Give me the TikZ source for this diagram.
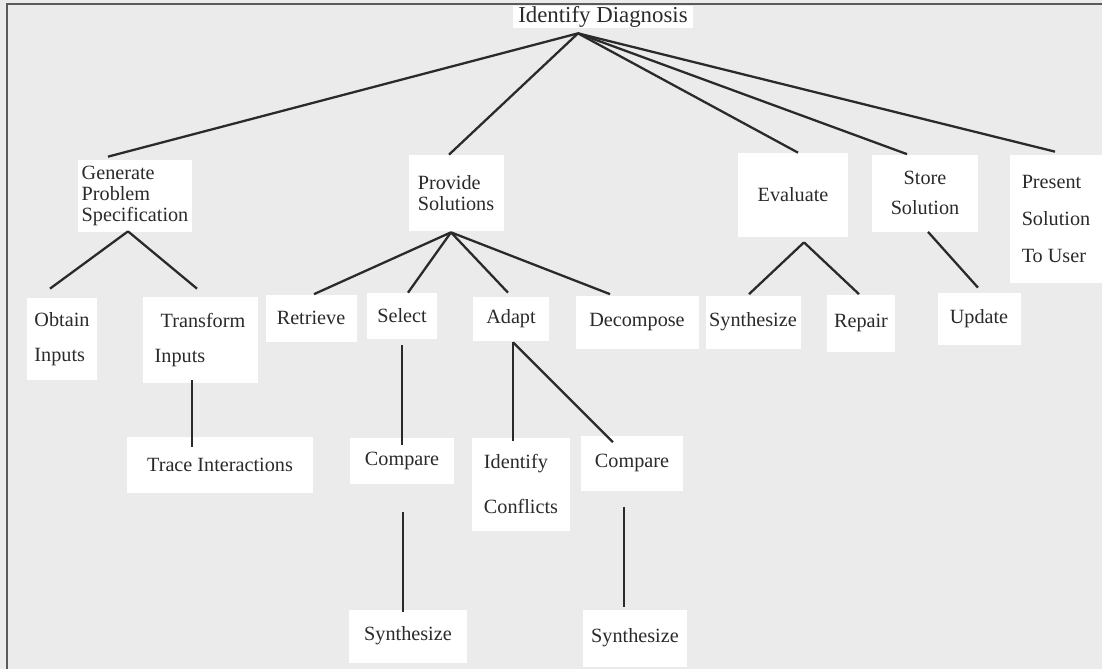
\documentclass[tikz,border=0pt]{standalone}
\usepackage{fontspec}
\setmainfont{Liberation Serif}
\usetikzlibrary{calc, positioning}
\definecolor{paper}{HTML}{EBEBEB}
\definecolor{frameline}{HTML}{5A5A5A}
\definecolor{ink}{HTML}{2A2A2A}

\begin{document}
\begin{tikzpicture}[
    x=0.2mm, y=-0.2mm,
    task/.style={fill=white, inner sep=0pt, text=ink,
                 font=\fontsize{11.5}{12.2}\selectfont},
    link/.style={draw=ink, line width=1.3pt}
  ]
  \useasboundingbox (0,0) rectangle (1102,669);
  \fill[paper] (0,0) rectangle (1102,669);
  \draw[frameline, line width=0.4mm] (7,669) -- (7,3.5) -- (1102,3.5);

  % top level
  \node[task, font=\fontsize{13}{14}\selectfont,
        minimum width=36mm, minimum height=4.4mm] (diag) at (603,17)
    {Identify Diagnosis};

  % second level
  \node[task, align=left, minimum width=22.8mm, minimum height=14.4mm] (gen) at (135,196)
    {Generate\\Problem\\Specification};
  \node[task, align=left, minimum width=19mm, minimum height=15.2mm] (prov) at (456,193)
    {Provide\\Solutions};
  \node[task, minimum width=22mm, minimum height=16.8mm] (eval) at (793,195)
    {Evaluate};
  \node[task, align=center, minimum width=21.2mm, minimum height=15.4mm] (store) at (925,193)
    {Store\\[1.7mm]Solution};
  \node[task, align=left, minimum width=18.4mm, minimum height=25.6mm] (pres) at (1056,219)
    {Present\\[3.2mm]Solution\\[3.2mm]To User};

  % third level
  \node[task, align=left, minimum width=13.8mm, minimum height=16.4mm] (obtain) at (62,339)
    {Obtain\\[2.7mm]Inputs};
  \node[task, align=left, minimum width=23mm, minimum height=17.2mm] (trans) at (200,340)
    {\hspace*{1.2mm}Transform\\[2.7mm]Inputs};
  \node[task, minimum width=18.2mm, minimum height=9.4mm] (retr) at (311,318) {Retrieve};
  \node[task, minimum width=14mm, minimum height=9.2mm] (sel) at (402,316) {Select};
  \node[task, minimum width=15.2mm, minimum height=8.8mm] (adapt) at (511,319) {Adapt};
  \node[task, minimum width=24.6mm, minimum height=10.6mm] (decomp) at (637,322) {Decompose};
  \node[task, minimum width=19mm, minimum height=10.6mm] (synA) at (753,322) {Synthesize};
  \node[task, minimum width=13.6mm, minimum height=11.4mm] (repair) at (861,323) {Repair};
  \node[task, minimum width=16.6mm, minimum height=10.4mm] (update) at (979,319) {Update};

  % fourth level
  \node[task, minimum width=37.2mm, minimum height=11.2mm] (trace) at (220,465)
    {Trace Interactions};
  \node[task, minimum width=20.8mm, minimum height=9.2mm] (cmpA) at (402,461) {Compare};
  \node[task, align=left, minimum width=19.6mm, minimum height=18.6mm] (confl) at (521,484)
    {Identify\\[4.7mm]Conflicts};
  \node[task, minimum width=20.4mm, minimum height=11mm] (cmpB) at (632,463) {Compare};

  % fifth level
  \node[task, minimum width=23.6mm, minimum height=10.6mm] (synB) at (408,636) {Synthesize};
  \node[task, minimum width=20.8mm, minimum height=11.4mm] (synC) at (635,638) {Synthesize};

  % links from the root
  \draw[link] ($(diag.south)+(-25,5)$) -- ($(gen.north)+(-27,-3)$);
  \draw[link] ($(diag.south)+(-25,5)$) -- ($(prov.north)+(-7,0)$);
  \draw[link] ($(diag.south)+(-25,5)$) -- ($(eval.north)+(5,0)$);
  \draw[link] ($(diag.south)+(-25,5)$) -- ($(store.north)+(-18,0)$);
  \draw[link] ($(diag.south)+(-25,5)$) -- ($(pres.north)+(-1,-3)$);

  % links below
  \draw[link] ($(gen.south)+(-7,-1)$) -- ($(obtain.north)+(-12,-9)$);
  \draw[link] ($(gen.south)+(-7,-1)$) -- ($(trans.north)+(-3,-8)$);
  \draw[link] ($(prov.south)+(-5,1)$) -- ($(retr.north)+(3,0)$);
  \draw[link] ($(prov.south)+(-5,1)$) -- ($(sel.north)+(6,0)$);
  \draw[link] ($(prov.south)+(-5,1)$) -- ($(adapt.north)+(-3,-4)$);
  \draw[link] ($(prov.south)+(-5,1)$) -- ($(decomp.north)+(-27,-1)$);
  \draw[link] ($(eval.south)+(11,5)$) -- ($(synA.north)+(-4,-1)$);
  \draw[link] ($(eval.south)+(11,5)$) -- ($(repair.north)+(-2,0)$);
  \draw[link] ($(store.south)+(3,0)$) -- ($(update.north)+(-1,-5)$);
  \draw[link] ($(trans.south)+(-8,-3)$) -- ($(trace.north)+(-28,10)$);
  \draw[link] ($(sel.south)+(0,6)$) -- ($(cmpA.north)+(0,7)$);
  \draw[link] ($(cmpA.south)+(1,28)$) -- ($(synB.north)+(-5,3)$);
  \draw[link] ($(adapt.south)+(2,1)$) -- ($(confl.north)+(-8,4)$);
  \draw[link] ($(adapt.south)+(2,1)$) -- ($(cmpB.north)+(-19,7)$);
  \draw[link] ($(cmpB.south)+(-8,16)$) -- ($(synC.north)+(-11,-2)$);
\end{tikzpicture}
\end{document}
